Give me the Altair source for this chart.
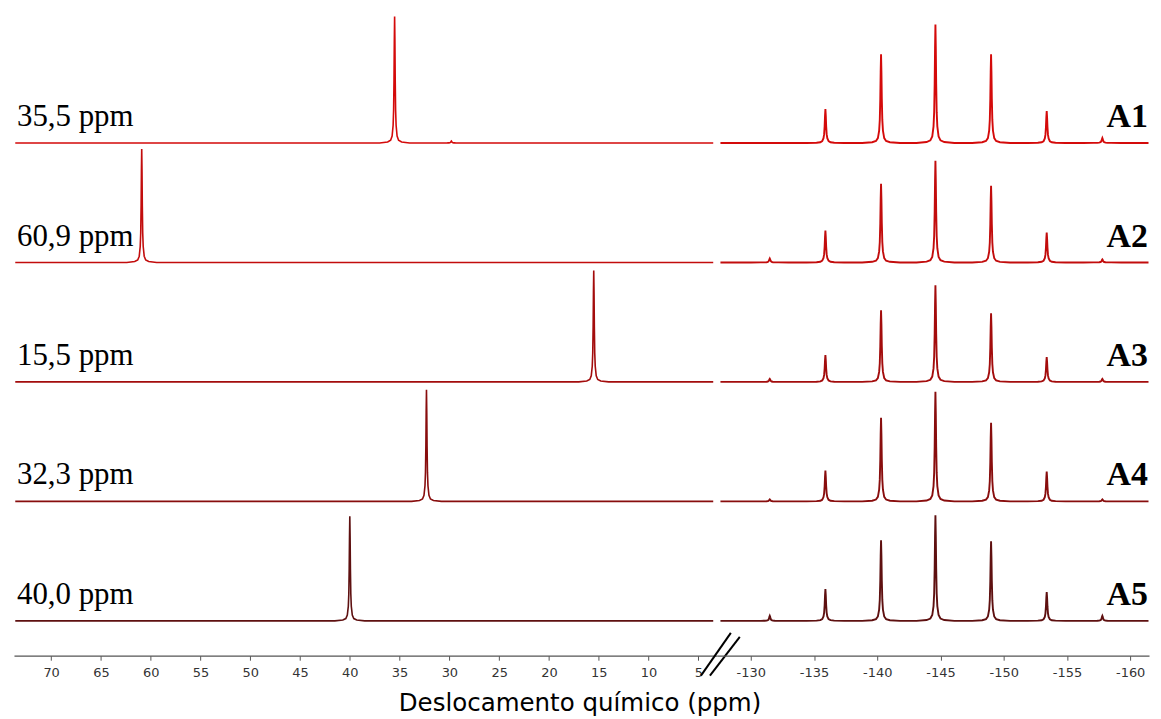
import altair as alt
import pandas as pd

# ---------------- data ----------------
SPECTRA = ["A1", "A2", "A3", "A4", "A5"]
SHIFT_LABELS = ["35,5 ppm", "60,9 ppm", "15,5 ppm", "32,3 ppm", "40,0 ppm"]
COLORS = ["#d40a0a", "#c20c0c", "#a30c0c", "#880d0d", "#5e1010"]
OFFSETS = [515, 395, 275, 155, 35]          # vertical stacking offsets (intensity units)

# left region (ppm 74 .. 3)
LEFT_RANGE = [73.6, 3.5]
LEFT_PEAK_PPM = [[35.5, 29.8], [60.9], [15.5], [32.3], [40.0]]
LEFT_PEAK_H = [[127, 2], [114], [112], [112], [105]]

# right region (ppm -127 .. -162)
RIGHT_RANGE = [-127.6, -161.45]
RIGHT_PEAK_PPM = [-131.5, -135.9, -140.3, -144.6, -149.0, -153.4, -157.8]
RIGHT_PEAK_H = [
    [0, 34, 89, 119, 89, 32, 5],
    [4, 32, 79, 102, 77, 30, 3],
    [3, 27, 72, 97, 69, 25, 3],
    [2, 31, 84, 110, 79, 30, 2],
    [5, 32, 81, 106, 80, 29, 5],
]

# line profile of one resonance (offset in ppm, fraction of peak height)
PROFILE_OFFSET = [-1.5, -0.7, -0.4, -0.25, -0.15, -0.1, -0.06, -0.03, 0.0,
                  0.03, 0.06, 0.1, 0.15, 0.25, 0.4, 0.7, 1.5]
PROFILE_FRAC = [0.0, 0.008, 0.022, 0.055, 0.14, 0.26, 0.5, 0.8, 1.0,
                0.8, 0.5, 0.26, 0.14, 0.055, 0.022, 0.008, 0.0]

LEFT_TICKS = [72.5, 70, 67.5, 65, 62.5, 60, 57.5, 55, 52.5, 50, 47.5, 45, 42.5, 40,
              37.5, 35, 32.5, 30, 27.5, 25, 22.5, 20, 17.5, 15, 12.5, 10, 7.5, 5]
RIGHT_TICKS = [-130, -132.5, -135, -137.5, -140, -142.5, -145, -147.5, -150,
               -152.5, -155, -157.5, -160]

AXIS_TITLE = "Deslocamento químico (ppm)"

# break symbol "//" on the axis (left-panel scale units)
BREAK_X1 = [4.73, 3.83]
BREAK_X2 = [1.73, 0.83]
BREAK_Y1 = [-20, -20]
BREAK_Y2 = [23, 19]


def build(ranges, peaks_ppm, peaks_h):
    rows = []
    for i, name in enumerate(SPECTRA):
        pts = [(ranges[0], 0.0), (ranges[1], 0.0)]
        pp = peaks_ppm[i] if isinstance(peaks_ppm[0], list) else peaks_ppm
        for p, h in zip(pp, peaks_h[i]):
            if h <= 0:
                continue
            for o, f in zip(PROFILE_OFFSET, PROFILE_FRAC):
                pts.append((p + o, h * f))
        pts.sort(key=lambda t: -t[0])
        for k, (x, v) in enumerate(pts):
            rows.append({"spec": name, "ppm": x, "y": OFFSETS[i] + v, "k": k})
    return pd.DataFrame(rows)


left_df = build(LEFT_RANGE, LEFT_PEAK_PPM, LEFT_PEAK_H)
right_df = build(RIGHT_RANGE, RIGHT_PEAK_PPM, RIGHT_PEAK_H)

left_lab = pd.DataFrame({"ppm": [73.43] * 5, "y": [o + 17 for o in OFFSETS], "t": SHIFT_LABELS})
right_lab = pd.DataFrame({"ppm": [-161.4] * 5, "y": [o + 16 for o in OFFSETS], "t": SPECTRA})
brk = pd.DataFrame({"x1": BREAK_X1, "x2": BREAK_X2, "y1": BREAK_Y1, "y2": BREAK_Y2})

YSC = alt.Scale(domain=[0, 649], nice=False, zero=False)
color = alt.Color("spec:N", scale=alt.Scale(domain=SPECTRA, range=COLORS), legend=None)

tick_size = {"condition": {"test": "datum.value % 5 === 0", "value": 4.5}, "value": 3}
label_expr = "datum.value % 5 === 0 ? toString(datum.value) : ''"

common_axis = dict(
    labelExpr=label_expr, labelFont="DejaVu Sans", labelFontSize=13, labelColor="#333333",
    labelPadding=6, labelFlush=False, labelOverlap=False, labelBound=False,
    domainColor="#555555", tickColor="#555555", tickSize=tick_size, domainWidth=1.2,
    grid=False,
)

left_x = alt.Scale(domain=[3.13, 73.73], reverse=True, nice=False, zero=False)
right_x = alt.Scale(domain=[-161.49, -127.32], reverse=True, nice=False, zero=False)

left_axis = alt.Axis(values=LEFT_TICKS, title=AXIS_TITLE, titleX=568, titleY=55,
                     titleBaseline="alphabetic", titleAlign="center", titleAnchor="start",
                     titleFont="DejaVu Sans", titleFontSize=24.6, titleFontWeight="normal",
                     titleColor="#000000", **common_axis)
right_axis = alt.Axis(values=RIGHT_TICKS, title=None, **common_axis)

left_lines = alt.Chart(left_df).mark_line(strokeWidth=1.6, clip=False).encode(
    x=alt.X("ppm:Q", scale=left_x, axis=left_axis),
    y=alt.Y("y:Q", scale=YSC, axis=None),
    color=color, detail="spec:N", order="k:Q",
)
left_text = alt.Chart(left_lab).mark_text(
    align="left", baseline="alphabetic", font="Liberation Serif", fontSize=31, color="#000000"
).encode(x=alt.X("ppm:Q", scale=left_x), y=alt.Y("y:Q", scale=YSC), text="t:N")
break_marks = alt.Chart(brk).mark_rule(color="#000000", strokeWidth=2).encode(
    x=alt.X("x1:Q", scale=left_x), x2="x2:Q",
    y=alt.Y("y1:Q", scale=YSC), y2="y2:Q",
)
left = alt.layer(left_lines, left_text, break_marks).properties(width=706, height=649)

right_lines = alt.Chart(right_df).mark_line(strokeWidth=1.9).encode(
    x=alt.X("ppm:Q", scale=right_x, axis=right_axis),
    y=alt.Y("y:Q", scale=YSC, axis=None),
    color=color, detail="spec:N", order="k:Q",
)
right_text = alt.Chart(right_lab).mark_text(
    align="right", baseline="alphabetic", font="Liberation Serif", fontSize=34,
    fontWeight="bold", color="#000000"
).encode(x=alt.X("ppm:Q", scale=right_x), y=alt.Y("y:Q", scale=YSC), text="t:N")
right = alt.layer(right_lines, right_text).properties(width=434, height=649)

chart = alt.hconcat(left, right, spacing=0, bounds="flush").properties(
    padding={"left": 4, "top": 0, "right": 0, "bottom": 0},
    background="#ffffff",
).configure_view(stroke=None)

chart.save("out.html", embed_options={"renderer": "svg", "actions": False})
